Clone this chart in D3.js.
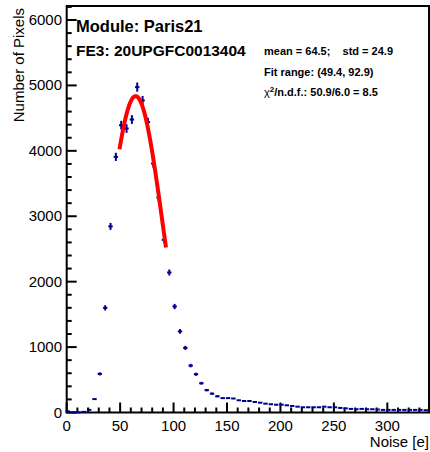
<!DOCTYPE html>
<html>
<head>
<meta charset="utf-8">
<script src="https://cdn.jsdelivr.net/npm/d3@7"></script>
<style>
  body { margin: 0; background: #fff; }
  text { font-family: "Liberation Sans", Arial, Helvetica, sans-serif; }
</style>
</head>
<body>
<div id="chart"></div>
<script>
// bin centres (Noise [e]) and pixel counts
const binCenters = [1, 6, 11, 16, 21, 26, 31, 36, 41, 46, 51, 56, 61, 66, 71, 76, 81, 86, 91, 96,
  101, 106, 111, 116, 121, 126, 131, 136, 141, 146, 151, 156, 161, 166, 171, 176, 181, 186, 191, 196,
  201, 206, 211, 216, 221, 226, 231, 236, 241, 246, 251, 256, 261, 266, 271, 276, 281, 286, 291, 296,
  301, 306, 311, 316, 321, 326, 331, 336];
const counts = [18, 3, 3, 10, 40, 205, 590, 1600, 2845, 3908, 4392, 4341, 4479, 4974, 4770, 4438, 3806, 3285, 2640, 2140,
  1620, 1240, 988, 717, 585, 447, 342, 288, 248, 220, 220, 214, 187, 176, 176, 161, 150, 135, 126, 119,
  119, 110, 100, 89, 80, 80, 80, 80, 89, 80, 80, 70, 64, 55, 50, 55, 50, 50, 46, 40,
  40, 40, 40, 40, 40, 40, 40, 35];

// gaussian fit
const fitAmp = 4836, fitMean = 64.5, fitSigma = 24.9;
const fitRange = [49.4, 92.9];

const xTicks = [0, 50, 100, 150, 200, 250, 300];
const yTicks = [0, 1000, 2000, 3000, 4000, 5000, 6000];

const width = 430, height = 452;
const margin = { top: 6, right: 1, bottom: 39.5, left: 66.7 };

const svg = d3.select("#chart").append("svg")
  .attr("width", width).attr("height", height);

const x = d3.scaleLinear().domain([0, 339]).range([margin.left, width - margin.right]);
const y = d3.scaleLinear().domain([0, 6214]).range([height - margin.bottom, margin.top]);

// frame
svg.append("rect")
  .attr("x", margin.left).attr("y", margin.top)
  .attr("width", width - margin.right - margin.left)
  .attr("height", height - margin.bottom - margin.top)
  .attr("fill", "none").attr("stroke", "#000").attr("stroke-width", 2);

// ticks (ROOT style, pointing inwards)
const xMinor = d3.range(0, 340, 10);
const yMinor = d3.range(0, 6201, 200);
const tg = svg.append("g").attr("stroke", "#000").attr("stroke-width", 2);
tg.selectAll(".xt").data(xMinor).join("line")
  .attr("x1", d => x(d)).attr("x2", d => x(d))
  .attr("y1", y(0)).attr("y2", d => y(0) - (d % 50 === 0 ? 10 : 5));
tg.selectAll(".yt").data(yMinor).join("line")
  .attr("y1", d => y(d)).attr("y2", d => y(d))
  .attr("x1", x(0)).attr("x2", d => x(0) + (d % 1000 === 0 ? 10 : 5));

svg.selectAll(".xl").data(xTicks).join("text")
  .attr("x", d => x(d)).attr("y", 431)
  .attr("text-anchor", "middle").attr("font-size", 15).text(d => d);
svg.selectAll(".yl").data(yTicks).join("text")
  .attr("x", 62).attr("y", d => y(d) + 5)
  .attr("text-anchor", "end").attr("font-size", 15).text(d => d);

// axis titles
svg.append("text").attr("x", 429).attr("y", 447)
  .attr("text-anchor", "end").attr("font-size", 15).text("Noise [e]");
svg.append("text")
  .attr("transform", `translate(24,8) rotate(-90)`)
  .attr("text-anchor", "end").attr("font-size", 15).text("Number of Pixels");

// data points with error bars
const pts = svg.append("g").attr("stroke", "#000090").attr("stroke-width", 2);
binCenters.forEach((c, i) => {
  const v = counts[i], e = Math.sqrt(v);
  pts.append("line").attr("x1", x(c) - 2.2).attr("x2", x(c) + 2.2)
    .attr("y1", y(v)).attr("y2", y(v));
  if (y(v - e) - y(v + e) > 2)
    pts.append("line").attr("x1", x(c)).attr("x2", x(c))
      .attr("y1", y(v - e)).attr("y2", y(v + e));
});

// fit curve
const fitX = d3.range(fitRange[0], fitRange[1] + 0.01, 0.5);
const line = d3.line()
  .x(d => x(d))
  .y(d => y(fitAmp * Math.exp(-((d - fitMean) ** 2) / (2 * fitSigma ** 2))));
svg.append("path").datum(fitX).attr("d", line)
  .attr("fill", "none").attr("stroke", "#ff0000").attr("stroke-width", 4);

// labels
svg.append("text").attr("x", 76).attr("y", 32)
  .attr("font-size", 16.5).attr("font-weight", "bold").text("Module: Paris21");
svg.append("text").attr("x", 76).attr("y", 56)
  .attr("font-size", 15.5).attr("font-weight", "bold").text("FE3: 20UPGFC0013404");
svg.append("text").attr("x", 264).attr("y", 55)
  .attr("font-size", 11).attr("font-weight", "bold")
  .attr("xml:space", "preserve").text("mean = 64.5;    std = 24.9");
svg.append("text").attr("x", 264).attr("y", 75.5)
  .attr("font-size", 11).attr("font-weight", "bold").text("Fit range: (49.4, 92.9)");
const chi = svg.append("text").attr("x", 264).attr("y", 96)
  .attr("font-size", 11).attr("font-weight", "bold");
chi.append("tspan").attr("font-weight", "normal").text("χ");
chi.append("tspan").attr("font-size", 8).attr("dy", -4).text("2");
chi.append("tspan").attr("dy", 4).text("/n.d.f.: 50.9/6.0 = 8.5");
</script>
</body>
</html>
